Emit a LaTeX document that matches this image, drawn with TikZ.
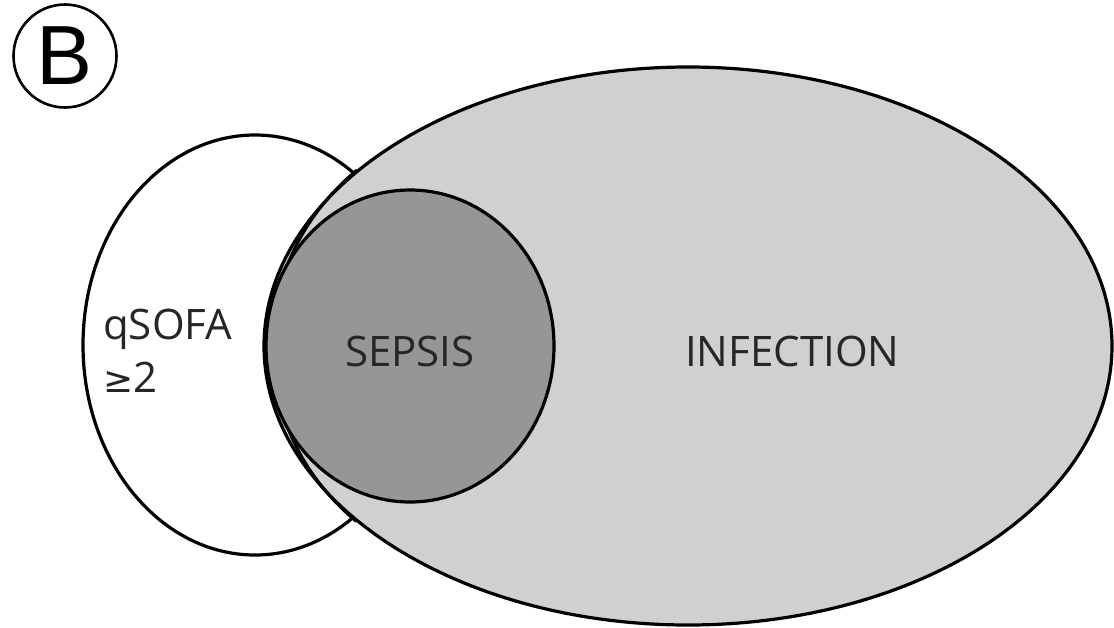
\documentclass[tikz,border=0pt]{standalone}
\usepackage{fontspec}
\setmainfont{Open Sans}
\newfontfamily\bfam{Liberation Sans}
\newfontfamily\djv{DejaVu Sans}
\usetikzlibrary{shapes.geometric}
\definecolor{infgray}{RGB}{208,208,208}
\definecolor{sepgray}{RGB}{150,150,150}
\begin{document}
\begin{tikzpicture}[x=1pt,y=-1pt,
  region/.style={ellipse, draw=black, line width=3.2pt, inner sep=0pt, outer sep=0pt},
  lab/.style={anchor=base west, inner sep=0pt, font=\fontsize{42}{48}\selectfont, text=black!85}]
\useasboundingbox (0,0) rectangle (1114,627);
% panel letter
\node[circle, draw=black, line width=2.6pt, minimum size=103pt, inner sep=0pt,
      font=\bfam\fontsize{84}{84}\selectfont] (panel) at (65,56) {B};
% regions
\node[region, fill=white, minimum width=344pt, minimum height=420pt] (qsofa) at (255,345) {};
\node[region, fill=infgray, minimum width=848pt, minimum height=558pt] (infection) at (688,346) {};
% continuation of the qSOFA border inside the infection region
\coordinate (qtop) at (357,170);
\draw[line width=3pt] (qtop) arc[start angle=228.4, end angle=131.8, x radius=253, y radius=235.4];
\node[region, fill=sepgray, minimum width=288pt, minimum height=312pt] (sepsis) at (410,346) {};
% labels
\node[lab] (tq) at (103,339) {qSOFA};
\node[lab] (tge) at (103,392) {{\djv\fontsize{36}{40}\selectfont ≥}2};
\node[lab] (ts) at (345,366) {SEPSIS};
\node[lab] (ti) at (685,366) {INFECTION};
\end{tikzpicture}
\end{document}
